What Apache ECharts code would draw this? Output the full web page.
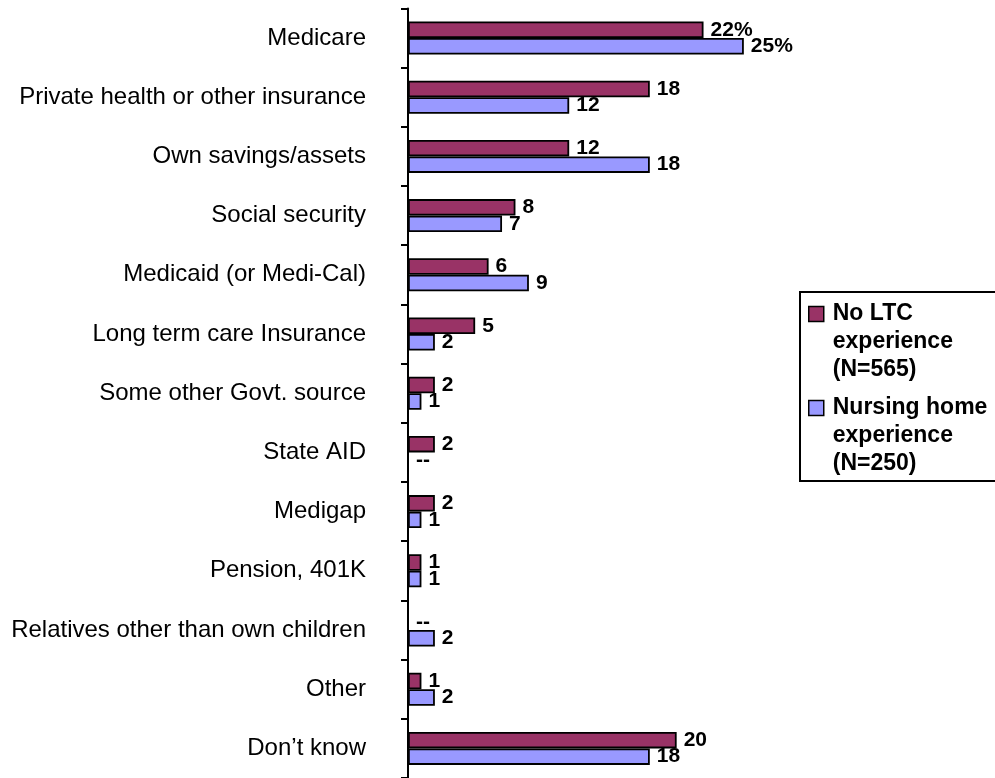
<!DOCTYPE html>
<html>
<head>
<meta charset="utf-8">
<script src="https://cdn.jsdelivr.net/npm/echarts@6/dist/echarts.min.js"></script>
<style>
  html, body { margin: 0; padding: 0; background: #fff; }
  #chart { width: 995px; height: 778px; }
</style>
</head>
<body>
<div id="chart"></div>
<script>
// Sources of payment, by long-term-care experience (percent)
const categories = [
  'Medicare',
  'Private health or other insurance',
  'Own savings/assets',
  'Social security',
  'Medicaid (or Medi-Cal)',
  'Long term care Insurance',
  'Some other Govt. source',
  'State AID',
  'Medigap',
  'Pension, 401K',
  'Relatives other than own children',
  'Other',
  'Don\u2019t know'
];
const seriesNames = [
  'No LTC\nexperience\n(N=565)',
  'Nursing home\nexperience\n(N=250)'
];
const noLtcValues = [22, 18, 12, 8, 6, 5, 2, 2, 2, 1, 0, 1, 20];
const nursingHomeValues = [25, 12, 18, 7, 9, 2, 1, 0, 1, 1, 2, 2, 18];

const FONT = '"Liberation Sans", Arial, sans-serif';

// Legend swatch: a square at the top of a tall icon box, so it sits beside
// the first line of the three-line legend text.
const LEGEND_ICON = 'path://M0,0L15,0L15,15L0,15Z M0,71L0,71';

function valueLabel(p) {
  if (p.value === 0) return '--';
  return p.dataIndex === 0 ? p.value + '%' : String(p.value);
}

function barSeries(name, data, color) {
  return {
    name: name,
    type: 'bar',
    data: data,
    barWidth: 16.5,
    barGap: '0%',
    itemStyle: { color: color, borderColor: '#000', borderWidth: 1.8 },
    label: {
      show: true,
      position: 'right',
      distance: 7,
      formatter: valueLabel,
      color: '#000',
      fontFamily: FONT,
      fontSize: 21,
      fontWeight: 'bold'
    }
  };
}

const chart = echarts.init(document.getElementById('chart'), null, { renderer: 'canvas' });
chart.setOption({
  animation: false,
  backgroundColor: '#fff',
  grid: { left: 408, top: 8.4, right: 184, bottom: -1, containLabel: false },
  xAxis: {
    type: 'value',
    min: 0,
    max: 30,
    show: false
  },
  yAxis: {
    type: 'category',
    data: categories,
    inverse: true,
    axisLine: { show: true, lineStyle: { color: '#000', width: 2 } },
    axisTick: { show: true, inside: false, length: 7, lineStyle: { color: '#000', width: 2 } },
    axisLabel: {
      margin: 42,
      color: '#000',
      fontFamily: FONT,
      fontSize: 24
    },
    splitLine: { show: false }
  },
  legend: {
    orient: 'vertical',
    left: 800,
    top: 292,
    padding: [8, 30, 3, 8],
    itemWidth: 15,
    itemHeight: 71,
    itemGap: 10,
    icon: LEGEND_ICON,
    borderColor: '#000',
    borderWidth: 2,
    backgroundColor: '#fff',
    itemStyle: { borderColor: '#000', borderWidth: 1.5 },
    textStyle: {
      color: '#000',
      fontFamily: FONT,
      fontSize: 23,
      fontWeight: 'bold',
      lineHeight: 28,
      padding: [0, 0, 0, 4]
    },
    data: seriesNames
  },
  series: [
    barSeries(seriesNames[0], noLtcValues, '#993366'),
    barSeries(seriesNames[1], nursingHomeValues, '#9999FF')
  ]
});
</script>
</body>
</html>
